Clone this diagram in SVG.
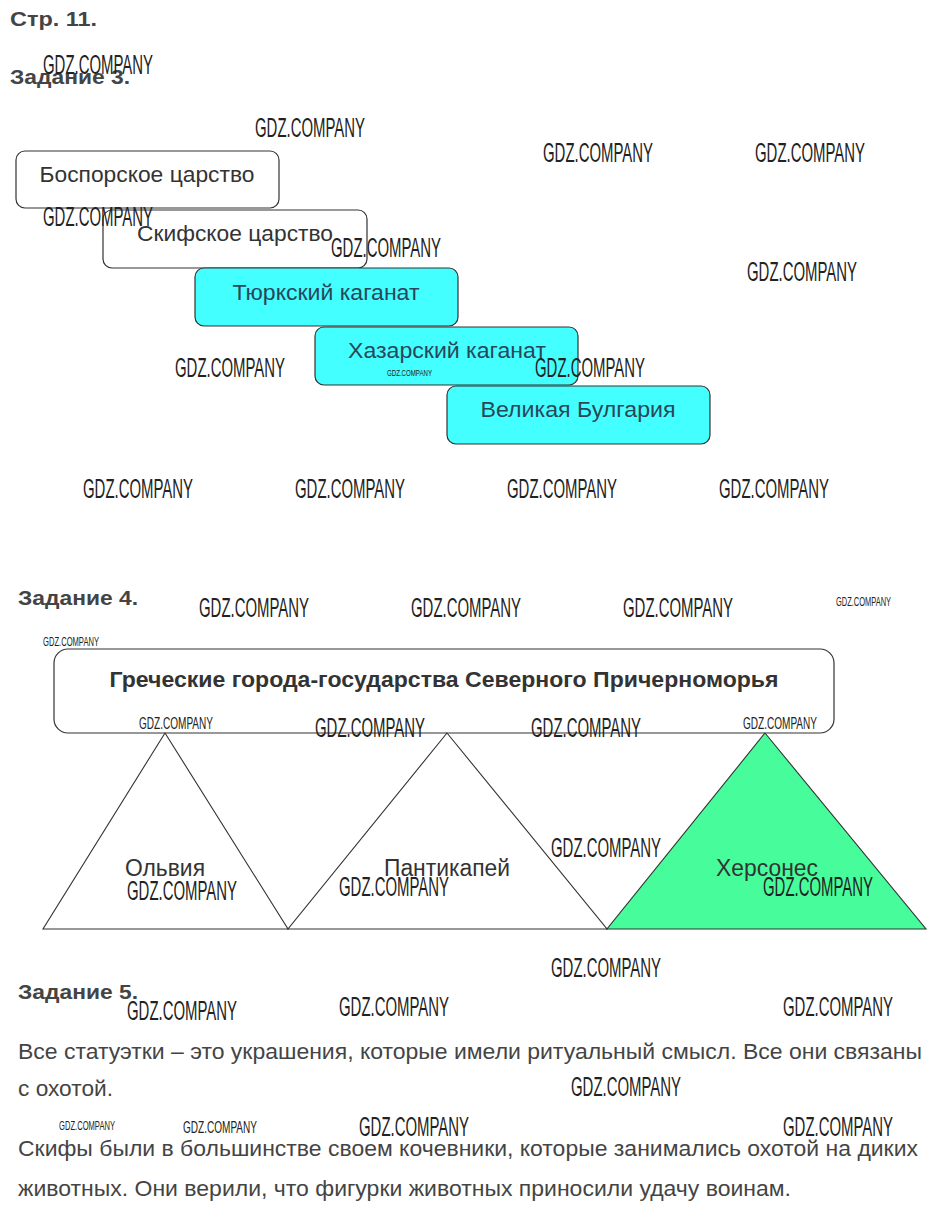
<svg xmlns="http://www.w3.org/2000/svg" width="943" height="1212" viewBox="0 0 943 1212">
<style>
.h{font-family:"Liberation Sans",Arial,sans-serif;font-weight:bold;font-size:21px;fill:#444}
.bx{stroke:#333;stroke-width:1.2}
.w{fill:#fff}
.c{fill:#44ffff}
.bt{font-family:"Liberation Sans",Arial,sans-serif;font-size:22.5px;fill:#333;text-anchor:middle}
.ct{fill:#2a4658}
.tl{font-family:"Liberation Sans",Arial,sans-serif;font-size:23px;fill:#333;text-anchor:middle}
.tri{stroke:#333;stroke-width:1.1}
.p{font-family:"Liberation Sans",Arial,sans-serif;font-size:22px;fill:#444}
.wm{font-family:"Liberation Sans",Arial,sans-serif;fill:#222;font-size:27px}
.wm2{font-family:"Liberation Sans",Arial,sans-serif;fill:#222;font-size:17px}
.wm3{font-family:"Liberation Sans",Arial,sans-serif;fill:#222;font-size:12px}
</style>
<rect width="943" height="1212" fill="#fff"/>
<text class="h" x="10" y="26" textLength="87" lengthAdjust="spacingAndGlyphs">Стр. 11.</text>
<text class="h" x="10" y="84" textLength="120" lengthAdjust="spacingAndGlyphs">Задание 3.</text>

<g id="node-bospor"><rect class="bx w" x="16" y="151" width="263" height="57" rx="9"/><text class="bt" x="147" y="182" textLength="215" lengthAdjust="spacingAndGlyphs">Боспорское царство</text></g>
<g id="node-skif"><rect class="bx w" x="103" y="210" width="264" height="58" rx="9"/><text class="bt" x="235" y="241" textLength="196" lengthAdjust="spacingAndGlyphs">Скифское царство</text></g>
<g id="node-turk"><rect class="bx c" x="195" y="268" width="263" height="58" rx="9"/><text class="bt ct" x="326" y="300" textLength="187" lengthAdjust="spacingAndGlyphs">Тюркский каганат</text></g>
<g id="node-khazar"><rect class="bx c" x="315" y="327" width="263" height="58" rx="9"/><text class="bt ct" x="447" y="358" textLength="198" lengthAdjust="spacingAndGlyphs">Хазарский каганат</text></g>
<g id="node-bulgar"><rect class="bx c" x="447" y="386" width="263" height="58" rx="9"/><text class="bt ct" x="578" y="417" textLength="195" lengthAdjust="spacingAndGlyphs">Великая Булгария</text></g>

<text class="h" x="18" y="605" textLength="120" lengthAdjust="spacingAndGlyphs">Задание 4.</text>
<g id="node-greek"><rect class="bx w" x="54" y="649" width="780" height="84" rx="14"/><text class="bt" x="444" y="687" style="font-weight:bold;font-size:22px" textLength="669" lengthAdjust="spacingAndGlyphs">Греческие города-государства Северного Причерноморья</text></g>
<g id="connectors"></g>
<g id="node-olvia"><polygon class="tri" fill="#fff" points="165,733 43,929 288,929"/><text class="tl" x="165" y="876" textLength="80" lengthAdjust="spacingAndGlyphs">Ольвия</text></g>
<g id="node-pantikapei"><polygon class="tri" fill="#fff" points="447,733 288,929 607,929"/><text class="tl" x="447" y="876" textLength="126" lengthAdjust="spacingAndGlyphs">Пантикапей</text></g>
<g id="node-chersonesos"><polygon class="tri" fill="#47fd9b" points="765,733 607,929 926,929"/><text class="tl" x="767" y="876" textLength="102" lengthAdjust="spacingAndGlyphs">Херсонес</text></g>

<text class="h" x="18" y="999" textLength="120" lengthAdjust="spacingAndGlyphs">Задание 5.</text>
<text class="p" x="18" y="1059" textLength="904" lengthAdjust="spacingAndGlyphs">Все статуэтки – это украшения, которые имели ритуальный смысл. Все они связаны</text>
<text class="p" x="18" y="1096" textLength="95" lengthAdjust="spacingAndGlyphs">с охотой.</text>
<text class="p" x="18" y="1156" textLength="900" lengthAdjust="spacingAndGlyphs">Скифы были в большинстве своем кочевники, которые занимались охотой на диких</text>
<text class="p" x="18" y="1196" textLength="773" lengthAdjust="spacingAndGlyphs">животных. Они верили, что фигурки животных приносили удачу воинам.</text>

<g id="watermarks">
<text class="wm" x="43" y="74" textLength="110" lengthAdjust="spacingAndGlyphs">GDZ.COMPANY</text>
<text class="wm" x="255" y="137" textLength="110" lengthAdjust="spacingAndGlyphs">GDZ.COMPANY</text>
<text class="wm" x="543" y="162" textLength="110" lengthAdjust="spacingAndGlyphs">GDZ.COMPANY</text>
<text class="wm" x="755" y="162" textLength="110" lengthAdjust="spacingAndGlyphs">GDZ.COMPANY</text>
<text class="wm" x="43" y="226" textLength="110" lengthAdjust="spacingAndGlyphs">GDZ.COMPANY</text>
<text class="wm" x="331" y="257" textLength="110" lengthAdjust="spacingAndGlyphs">GDZ.COMPANY</text>
<text class="wm" x="747" y="281" textLength="110" lengthAdjust="spacingAndGlyphs">GDZ.COMPANY</text>
<text class="wm" x="175" y="377" textLength="110" lengthAdjust="spacingAndGlyphs">GDZ.COMPANY</text>
<text class="wm" x="535" y="377" textLength="110" lengthAdjust="spacingAndGlyphs">GDZ.COMPANY</text>
<text class="wm3" x="387" y="376" style="font-size:9px" textLength="45" lengthAdjust="spacingAndGlyphs">GDZ.COMPANY</text>
<text class="wm" x="83" y="498" textLength="110" lengthAdjust="spacingAndGlyphs">GDZ.COMPANY</text>
<text class="wm" x="295" y="498" textLength="110" lengthAdjust="spacingAndGlyphs">GDZ.COMPANY</text>
<text class="wm" x="507" y="498" textLength="110" lengthAdjust="spacingAndGlyphs">GDZ.COMPANY</text>
<text class="wm" x="719" y="498" textLength="110" lengthAdjust="spacingAndGlyphs">GDZ.COMPANY</text>
<text class="wm" x="199" y="617" textLength="110" lengthAdjust="spacingAndGlyphs">GDZ.COMPANY</text>
<text class="wm" x="411" y="617" textLength="110" lengthAdjust="spacingAndGlyphs">GDZ.COMPANY</text>
<text class="wm" x="623" y="617" textLength="110" lengthAdjust="spacingAndGlyphs">GDZ.COMPANY</text>
<text class="wm3" x="836" y="606" textLength="55" lengthAdjust="spacingAndGlyphs">GDZ.COMPANY</text>
<text class="wm3" x="43" y="646" textLength="56" lengthAdjust="spacingAndGlyphs">GDZ.COMPANY</text>
<text class="wm2" x="139" y="729" textLength="74" lengthAdjust="spacingAndGlyphs">GDZ.COMPANY</text>
<text class="wm" x="315" y="737" textLength="110" lengthAdjust="spacingAndGlyphs">GDZ.COMPANY</text>
<text class="wm" x="531" y="737" textLength="110" lengthAdjust="spacingAndGlyphs">GDZ.COMPANY</text>
<text class="wm2" x="743" y="729" textLength="74" lengthAdjust="spacingAndGlyphs">GDZ.COMPANY</text>
<text class="wm" x="551" y="857" textLength="110" lengthAdjust="spacingAndGlyphs">GDZ.COMPANY</text>
<text class="wm" x="127" y="900" textLength="110" lengthAdjust="spacingAndGlyphs">GDZ.COMPANY</text>
<text class="wm" x="339" y="896" textLength="110" lengthAdjust="spacingAndGlyphs">GDZ.COMPANY</text>
<text class="wm" x="763" y="896" textLength="110" lengthAdjust="spacingAndGlyphs">GDZ.COMPANY</text>
<text class="wm" x="551" y="977" textLength="110" lengthAdjust="spacingAndGlyphs">GDZ.COMPANY</text>
<text class="wm" x="127" y="1020" textLength="110" lengthAdjust="spacingAndGlyphs">GDZ.COMPANY</text>
<text class="wm" x="339" y="1016" textLength="110" lengthAdjust="spacingAndGlyphs">GDZ.COMPANY</text>
<text class="wm" x="783" y="1016" textLength="110" lengthAdjust="spacingAndGlyphs">GDZ.COMPANY</text>
<text class="wm" x="571" y="1096" textLength="110" lengthAdjust="spacingAndGlyphs">GDZ.COMPANY</text>
<text class="wm3" x="59" y="1130" textLength="56" lengthAdjust="spacingAndGlyphs">GDZ.COMPANY</text>
<text class="wm2" x="183" y="1133" textLength="74" lengthAdjust="spacingAndGlyphs">GDZ.COMPANY</text>
<text class="wm" x="359" y="1136" textLength="110" lengthAdjust="spacingAndGlyphs">GDZ.COMPANY</text>
<text class="wm" x="783" y="1136" textLength="110" lengthAdjust="spacingAndGlyphs">GDZ.COMPANY</text>
</g>
</svg>
